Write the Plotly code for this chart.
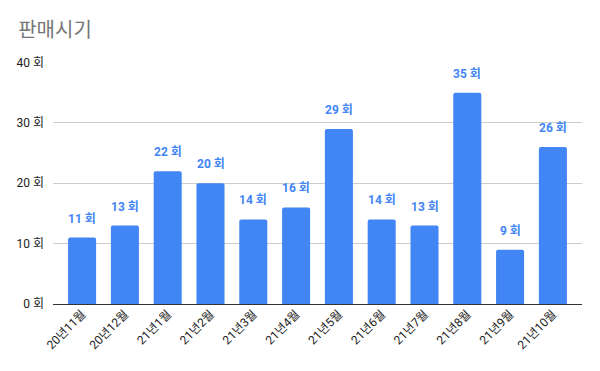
import plotly.graph_objects as go

categories = ["20년11월", "20년12월", "21년1월", "21년2월", "21년3월", "21년4월",
              "21년5월", "21년6월", "21년7월", "21년8월", "21년9월", "21년10월"]
counts = [11, 13, 22, 20, 14, 16, 29, 14, 13, 35, 9, 26]
y_ticks = [0, 10, 20, 30, 40]
y_tick_labels = [f"{v} 회" for v in y_ticks]

BLUE = "#4285F4"
FONT = "Roboto, 'Noto Sans CJK KR', sans-serif"

fig = go.Figure()
fig.add_trace(go.Bar(
    x=categories, y=counts, marker_color=BLUE, marker_line_width=0,
    hoverinfo="x+y",
))

for c, v in zip(categories, counts):
    fig.add_annotation(x=c, y=v, text=f"<b>{v} 회</b>", showarrow=False,
                       yanchor="middle", yshift=19,
                       font=dict(family=FONT, size=12, color=BLUE))

pad = 0.18
fig.update_layout(
    width=600, height=371,
    margin=dict(l=45, r=26, t=54, b=75),
    paper_bgcolor="white", plot_bgcolor="white",
    bargap=0.345, barcornerradius=2,
    showlegend=False,
    title=dict(text="판매시기", x=0.017, xanchor="left", y=0.94, yanchor="middle",
               font=dict(family=FONT, size=20, color="#757575")),
    font=dict(family=FONT, size=12, color="#222222"),
)
fig.update_xaxes(tickangle=-45, showgrid=False, showline=False, ticks="",
                 automargin=False,
                 range=[-0.5 - pad, len(categories) - 0.5 + pad],
                 tickfont=dict(size=12, color="#222222"))
fig.update_yaxes(range=[0, 40.08], tickvals=y_ticks, ticktext=y_tick_labels,
                 automargin=False,
                 showgrid=True, gridcolor="#cccccc", gridwidth=1,
                 zeroline=True, zerolinecolor="#333333", zerolinewidth=1,
                 ticks="", ticklabelstandoff=8,
                 tickfont=dict(size=12, color="#222222"))

fig.write_html("out.html")
